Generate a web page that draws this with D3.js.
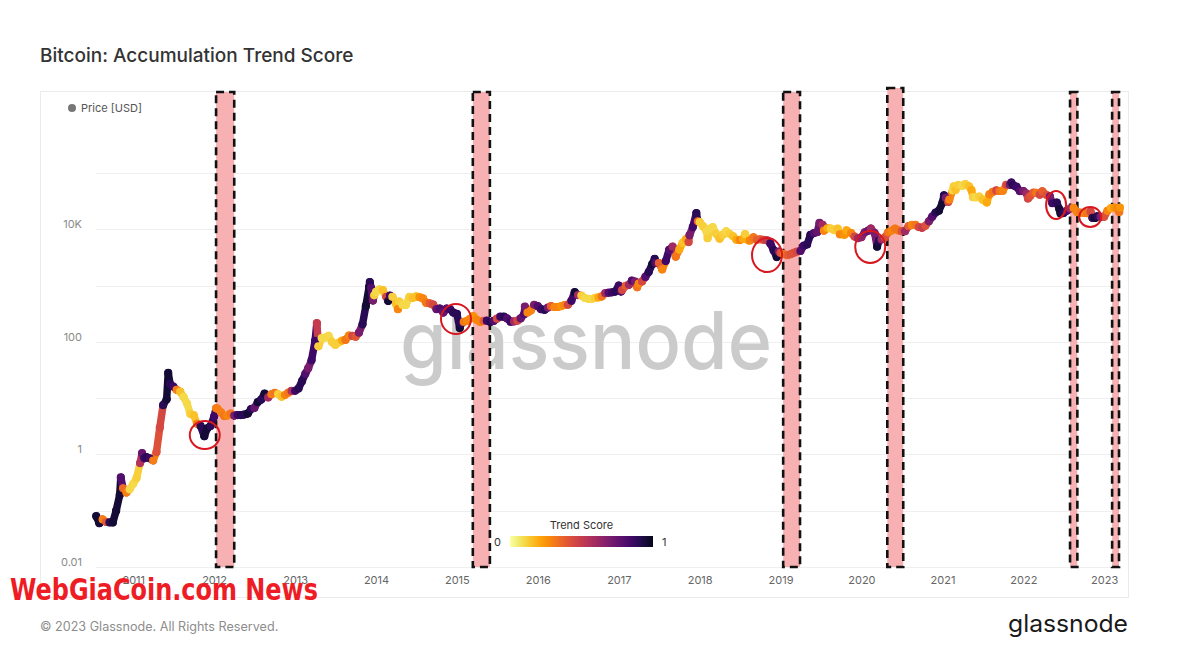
<!DOCTYPE html>
<html><head><meta charset="utf-8">
<script src="https://cdn.jsdelivr.net/npm/d3@7"></script>
<style>html,body{margin:0;padding:0;background:#fff;} svg{display:block;font-family:Inter,"Noto Sans",sans-serif;}</style>
</head><body><svg id="chart" width="1199" height="670"></svg>
<script>
// ---------------- DATA ----------------
const dates = [
 "2010-07-18","2010-08-01","2010-08-16","2010-09-01","2010-09-16","2010-10-01","2010-10-16","2010-11-01","2010-11-06","2010-11-16","2010-12-01","2010-12-16",
 "2011-01-01","2011-01-16","2011-02-01","2011-02-10","2011-02-20","2011-03-01","2011-03-16","2011-04-01","2011-04-16","2011-05-01","2011-05-16","2011-06-01","2011-06-08","2011-06-16","2011-07-01","2011-07-16","2011-08-01","2011-08-16","2011-09-01","2011-09-16","2011-10-01","2011-10-16","2011-11-01","2011-11-18","2011-12-01","2011-12-16",
 "2012-01-01","2012-01-10","2012-01-16","2012-02-01","2012-02-16","2012-03-01","2012-03-16","2012-04-01","2012-04-16","2012-05-01","2012-05-16","2012-06-01","2012-06-16","2012-07-01","2012-07-16","2012-08-01","2012-08-16","2012-09-01","2012-09-16","2012-10-01","2012-10-16","2012-11-01","2012-11-16","2012-12-01","2012-12-16",
 "2013-01-01","2013-01-16","2013-02-01","2013-02-16","2013-03-01","2013-03-16","2013-04-01","2013-04-09","2013-04-16","2013-05-01","2013-05-16","2013-06-01","2013-06-16","2013-07-01","2013-07-16","2013-08-01","2013-08-16","2013-09-01","2013-09-16","2013-10-01","2013-10-16","2013-11-01","2013-11-16","2013-12-01","2013-12-04","2013-12-10","2013-12-18","2013-12-24",
 "2014-01-01","2014-01-16","2014-02-01","2014-02-16","2014-02-25","2014-03-05","2014-03-16","2014-04-01","2014-04-10","2014-04-16","2014-05-01","2014-05-16","2014-06-01","2014-06-16","2014-07-01","2014-07-16","2014-08-01","2014-08-16","2014-09-01","2014-09-16","2014-10-01","2014-10-16","2014-11-01","2014-11-16","2014-12-01","2014-12-16",
 "2015-01-01","2015-01-14","2015-01-20","2015-02-01","2015-02-16","2015-03-01","2015-03-16","2015-04-01","2015-04-16","2015-05-01","2015-05-16","2015-06-01","2015-06-16","2015-07-01","2015-07-16","2015-08-01","2015-08-16","2015-09-01","2015-09-16","2015-10-01","2015-10-16","2015-11-01","2015-11-04","2015-11-16","2015-12-01","2015-12-16",
 "2016-01-01","2016-01-16","2016-02-01","2016-02-16","2016-03-01","2016-03-16","2016-04-01","2016-04-16","2016-05-01","2016-05-16","2016-06-01","2016-06-16","2016-07-01","2016-07-16","2016-08-01","2016-08-16","2016-09-01","2016-09-16","2016-10-01","2016-10-16","2016-11-01","2016-11-16","2016-12-01","2016-12-16",
 "2017-01-01","2017-01-11","2017-01-16","2017-02-01","2017-02-16","2017-03-01","2017-03-16","2017-03-25","2017-04-01","2017-04-16","2017-05-01","2017-05-16","2017-06-01","2017-06-12","2017-06-16","2017-07-01","2017-07-16","2017-08-01","2017-08-16","2017-09-01","2017-09-15","2017-10-01","2017-10-16","2017-11-01","2017-11-12","2017-11-16","2017-12-01","2017-12-17","2017-12-24",
 "2018-01-01","2018-01-16","2018-02-01","2018-02-06","2018-02-16","2018-03-01","2018-03-16","2018-04-01","2018-04-16","2018-05-01","2018-05-16","2018-06-01","2018-06-16","2018-07-01","2018-07-16","2018-07-25","2018-08-10","2018-08-16","2018-09-01","2018-09-16","2018-10-01","2018-10-16","2018-11-01","2018-11-16","2018-12-01","2018-12-15","2018-12-24",
 "2019-01-01","2019-01-16","2019-02-01","2019-02-16","2019-03-01","2019-03-16","2019-04-01","2019-04-16","2019-05-01","2019-05-16","2019-06-01","2019-06-16","2019-06-26","2019-07-10","2019-07-16","2019-08-01","2019-08-16","2019-09-01","2019-09-16","2019-09-26","2019-10-16","2019-10-26","2019-11-16","2019-12-01","2019-12-16",
 "2020-01-01","2020-01-16","2020-02-01","2020-02-13","2020-03-01","2020-03-12","2020-03-20","2020-04-01","2020-04-16","2020-05-01","2020-05-16","2020-06-01","2020-06-16","2020-07-01","2020-07-16","2020-08-01","2020-08-16","2020-09-01","2020-09-16","2020-10-01","2020-10-16","2020-11-01","2020-11-16","2020-12-01","2020-12-16",
 "2021-01-01","2021-01-08","2021-01-16","2021-01-27","2021-02-01","2021-02-16","2021-02-21","2021-03-01","2021-03-13","2021-04-01","2021-04-14","2021-05-01","2021-05-12","2021-05-19","2021-06-01","2021-06-16","2021-07-01","2021-07-20","2021-08-01","2021-08-16","2021-09-01","2021-09-16","2021-10-01","2021-10-16","2021-11-01","2021-11-08","2021-11-16","2021-12-01","2021-12-16",
 "2022-01-01","2022-01-16","2022-01-22","2022-02-01","2022-02-16","2022-03-01","2022-03-16","2022-03-28","2022-04-16","2022-05-01","2022-05-12","2022-06-01","2022-06-13","2022-06-18","2022-07-01","2022-07-16","2022-08-01","2022-08-16","2022-09-01","2022-09-16","2022-10-01","2022-10-16","2022-11-01","2022-11-09","2022-11-21","2022-12-01","2022-12-16",
 "2023-01-01","2023-01-16","2023-02-01","2023-02-16","2023-03-01","2023-03-10","2023-03-13"
];
const priceUSD = [
 0.08,0.06,0.07,0.063,0.062,0.062,0.10,0.19,0.39,0.25,0.21,0.24,
 0.30,0.38,0.7,1.05,0.85,0.9,0.85,0.78,1.1,3.0,7.5,9.5,28,18,16,14,13,10.5,8,5.2,5.0,3.5,3.2,2.1,2.9,3.2,
 4.7,6.6,6.5,5.6,4.8,4.9,5.3,4.9,5.0,5.0,5.1,5.3,6.4,6.7,8.5,9.4,12.0,10.3,11.7,12.4,11.8,10.6,11.3,12.5,13.4,
 13.5,14.8,20,27,34,47,104,214,83,116,119,128,99,88,97,105,108,129,127,123,145,204,430,946,1150,900,540,670,
 770,850,830,630,530,660,630,470,380,520,450,450,630,600,640,620,590,490,480,460,380,390,330,390,380,330,
 315,175,210,225,235,255,285,245,225,235,237,225,235,258,280,280,260,228,230,237,260,310,420,330,360,455,
 430,380,370,405,430,415,415,430,450,455,535,760,675,665,600,580,575,605,615,640,730,745,755,780,
 1000,780,830,990,1030,1220,1170,930,1080,1180,1420,1730,2400,2960,2500,2500,1930,2720,4300,4900,3250,4350,5700,6700,5900,7800,10900,19300,13800,
 13400,11300,9100,6900,10200,10900,8300,6800,8000,9200,8300,7500,6500,6400,6700,8200,6300,6300,7200,6500,6600,6500,6350,5600,4200,3200,4000,
 3800,3600,3450,3600,3800,4000,4100,5100,5350,7900,8550,8900,12900,12000,9400,10400,10300,9600,10200,8100,8000,9500,8500,7400,6900,
 7200,8800,9400,10300,8500,4900,6200,6600,7100,8800,9400,10200,9500,9200,9200,11300,11900,11900,10900,10600,11500,13800,16700,19700,21300,
 29400,40000,36000,30400,33500,49000,57500,49600,61000,58800,63500,57800,49500,37000,36700,38000,33500,29800,41500,46000,48800,47700,48100,61500,61300,67500,60100,57000,47600,
 47700,43100,35100,38700,44500,44400,41100,47100,40400,38500,28900,29800,22500,19000,19300,21200,23300,23900,20100,19700,19300,19200,20500,15900,15800,17000,16600,
 16600,21200,23700,24300,23600,20200,24100
];
const trendScore = [
 0.95,0.95,0.3,0.4,0.9,0.95,0.95,0.95,0.8,0.35,0.3,0.1,
 0.1,0.12,0.55,0.75,0.85,0.9,0.85,0.3,0.42,0.45,0.9,0.95,0.95,0.9,0.85,0.3,0.15,0.1,0.1,0.12,0.15,0.3,0.9,0.95,0.95,0.9,
 0.85,0.3,0.3,0.3,0.32,0.28,0.32,0.7,0.85,0.9,0.9,0.95,0.9,0.75,0.95,0.9,0.95,0.6,0.3,0.32,0.12,0.15,0.28,0.32,0.55,
 0.85,0.9,0.9,0.8,0.7,0.85,0.85,0.5,0.12,0.1,0.1,0.1,0.12,0.12,0.12,0.2,0.32,0.28,0.45,0.4,0.7,0.9,0.95,0.95,0.9,0.8,0.7,0.12,
 0.1,0.1,0.15,0.45,0.95,0.85,0.12,0.15,0.28,0.12,0.1,0.1,0.12,0.15,0.15,0.25,0.28,0.32,0.4,0.45,0.75,0.8,0.75,0.8,0.85,0.9,
 0.9,0.95,0.9,0.32,0.28,0.28,0.25,0.28,0.28,0.38,0.85,0.9,0.8,0.45,0.85,0.9,0.8,0.85,0.6,0.45,0.75,0.8,0.7,0.28,0.28,0.7,
 0.8,0.85,0.9,0.7,0.38,0.28,0.28,0.25,0.28,0.45,0.85,0.95,0.6,0.12,0.1,0.1,0.1,0.12,0.2,0.32,0.6,0.8,0.85,0.9,
 0.85,0.8,0.45,0.38,0.6,0.8,0.7,0.32,0.28,0.45,0.8,0.9,0.95,0.9,0.8,0.38,0.28,0.85,0.8,0.6,0.32,0.2,0.15,0.2,0.45,0.7,0.85,0.9,0.38,
 0.12,0.12,0.1,0.12,0.1,0.1,0.12,0.15,0.12,0.1,0.12,0.15,0.2,0.28,0.2,0.12,0.2,0.28,0.32,0.38,0.38,0.45,0.5,0.85,0.9,0.95,0.7,
 0.42,0.32,0.38,0.42,0.42,0.45,0.8,0.85,0.9,0.9,0.8,0.75,0.7,0.6,0.28,0.2,0.12,0.12,0.15,0.28,0.25,0.2,0.28,0.45,0.6,
 0.65,0.7,0.75,0.6,0.7,0.95,0.9,0.6,0.42,0.32,0.28,0.32,0.32,0.42,0.6,0.38,0.28,0.32,0.45,0.5,0.42,0.7,0.8,0.9,0.95,
 0.95,0.9,0.7,0.45,0.28,0.1,0.12,0.15,0.12,0.1,0.12,0.15,0.2,0.12,0.1,0.12,0.15,0.2,0.28,0.32,0.45,0.32,0.28,0.45,0.7,0.85,0.9,0.85,0.8,
 0.7,0.6,0.45,0.42,0.38,0.32,0.45,0.38,0.42,0.7,0.85,0.9,0.95,0.95,0.9,0.8,0.6,0.28,0.28,0.32,0.28,0.32,0.45,0.9,0.95,0.9,0.7,
 0.42,0.28,0.2,0.25,0.28,0.32,0.25
];
const yearTicks = [2011,2012,2013,2014,2015,2016,2017,2018,2019,2020,2021,2022,2023];
const yTickValues = [0.01,1,100,10000];
const yTickLabels = ["0.01","1","100","10K"];
const gridValues = [0.01,0.1,1,10,100,1000,10000,100000];
const boxStarts = ["2012-01-10","2015-03-14","2019-01-13","2020-04-27","2022-07-31","2023-02-06"];
const boxEnds   = ["2012-04-01","2015-05-30","2019-03-30","2020-07-08","2022-09-02","2023-03-09"];
const circleDates  = ["2011-11-20","2014-12-28","2018-11-01","2020-02-10","2022-05-29","2022-10-30"];
const circlePrices = [2.2,254,3470,4830,26900,16500];

// ---------------- STYLE / LAYOUT ----------------
const circleRadii = [[15,14],[15,15],[15,17],[15,16],[10,14],[11,10]];
const parse = d3.timeParse("%Y-%m-%d");
const svg = d3.select("#chart");
const W = 1199, H = 670;
const plot = {left: 96, right: 1121, bottom: 567, top: 92};

const x = d3.scaleTime().domain([parse("2010-07-17"), parse("2023-03-18")]).range([plot.left, plot.right]);
const y = d3.scaleLog().domain([0.01, 100000]).range([567, 567 - 56.3*7]);
const color = s => d3.interpolateInferno(1 - 0.95*s);

svg.append("rect").attr("width", W).attr("height", H).attr("fill", "#fff");

// title
svg.append("text").attr("x", 40).attr("y", 62).attr("font-size", 19).attr("font-weight", 500)
  .attr("fill", "#333").text("Bitcoin: Accumulation Trend Score");

// frame
svg.append("rect").attr("x", 40.5).attr("y", 91.5).attr("width", 1088).attr("height", 506)
  .attr("fill", "none").attr("stroke", "#ebebeb").attr("stroke-width", 1);

// gridlines
svg.append("g").selectAll("line").data(gridValues).join("line")
  .attr("x1", plot.left).attr("x2", plot.right)
  .attr("y1", d => Math.round(y(d)) + 0.5).attr("y2", d => Math.round(y(d)) + 0.5)
  .attr("stroke", "#efefef");

// y labels
const yAxis = d3.axisLeft(y).tickValues(yTickValues).tickFormat((d, i) => yTickLabels[i]).tickSize(0).tickPadding(0);
const gy = svg.append("g").attr("transform", "translate(82,0)").call(yAxis);
gy.select(".domain").remove();
gy.selectAll("text").attr("font-size", 11).attr("fill", "#8a8a8a").attr("font-family", "Inter,sans-serif").attr("dy", "-0.15em");

// x labels
const xAxis = d3.axisBottom(x).tickValues(yearTicks.map(yr => new Date(yr, 0, 1))).tickFormat(d3.timeFormat("%Y")).tickSize(0).tickPadding(0);
const gx = svg.append("g").attr("transform", "translate(0,576)").call(xAxis);
gx.select(".domain").remove();
gx.selectAll("text").attr("font-size", 11).attr("fill", "#666").attr("font-family", "Inter,sans-serif").attr("dy", "0.75em");

// watermark
svg.append("text").attr("x", 400).attr("y", 369).attr("font-size", 80).attr("font-weight", 500)
  .attr("fill", "#cbcbcb").attr("textLength", 372).attr("lengthAdjust", "spacingAndGlyphs").text("glassnode");

// highlight boxes
svg.append("g").selectAll("rect").data(boxStarts).join("rect")
  .attr("x", (d) => x(parse(d)))
  .attr("width", (d, i) => x(parse(boxEnds[i])) - x(parse(d)))
  .attr("y", (d, i) => i === 3 ? 88 : 92)
  .attr("height", (d, i) => i === 3 ? 567 - 88 : 567 - 92)
  .attr("fill", "#f8b1b3")
  .attr("stroke", "#111").attr("stroke-width", 2.6).attr("stroke-dasharray", "8,5");

// price series
const pts = dates.map((d, i) => ({t: parse(d), p: priceUSD[i], s: trendScore[i]}));
const gLine = svg.append("g");
gLine.selectAll("line").data(pts.slice(0, -1)).join("line")
  .attr("x1", d => x(d.t)).attr("y1", d => y(d.p))
  .attr("x2", (d, i) => x(pts[i+1].t)).attr("y2", (d, i) => y(pts[i+1].p))
  .attr("stroke", d => color(d.s)).attr("stroke-width", 7.5).attr("stroke-linecap", "round");
gLine.selectAll("circle").data(pts).join("circle")
  .attr("cx", d => x(d.t)).attr("cy", d => y(d.p)).attr("r", 4.1).attr("fill", d => color(d.s));

// red circles
svg.append("g").selectAll("ellipse").data(circleDates).join("ellipse")
  .attr("cx", d => x(parse(d))).attr("cy", (d, i) => y(circlePrices[i]))
  .attr("rx", (d, i) => circleRadii[i][0]).attr("ry", (d, i) => circleRadii[i][1])
  .attr("fill", "none").attr("stroke", "#d8181e").attr("stroke-width", 2);

// series legend
svg.append("circle").attr("cx", 72).attr("cy", 108).attr("r", 4).attr("fill", "#777");
svg.append("text").attr("x", 81).attr("y", 112).attr("font-size", 11).attr("fill", "#555").text("Price [USD]");

// colorbar legend
const defs = svg.append("defs");
const grad = defs.append("linearGradient").attr("id", "tsgrad");
d3.range(0, 1.0001, 0.05).forEach(t => grad.append("stop").attr("offset", t).attr("stop-color", color(t)));
const cb = d3.scaleLinear().domain([0, 1]).range([510, 653]);
svg.append("rect").attr("x", cb(0)).attr("y", 536).attr("width", cb(1) - cb(0)).attr("height", 11).attr("fill", "url(#tsgrad)");
svg.append("text").attr("x", (cb(0) + cb(1)) / 2).attr("y", 529).attr("text-anchor", "middle").attr("font-size", 11).attr("fill", "#333").text("Trend Score");
svg.append("text").attr("x", cb(0) - 9).attr("y", 546).attr("text-anchor", "end").attr("font-size", 11).attr("fill", "#333").text("0");
svg.append("text").attr("x", cb(1) + 9).attr("y", 546).attr("font-size", 11).attr("fill", "#333").text("1");

// footer
svg.append("text").attr("x", 40).attr("y", 631).attr("font-size", 12.6).attr("fill", "#8d8d8d").text("© 2023 Glassnode. All Rights Reserved.");
svg.append("text").attr("x", 1128).attr("y", 632).attr("text-anchor", "end").attr("font-size", 24).attr("fill", "#1a1a1a")
  .attr("textLength", 120).attr("lengthAdjust", "spacingAndGlyphs").text("glassnode");

// overlay watermark text
svg.append("text").attr("x", 10).attr("y", 600).attr("font-size", 31).attr("font-weight", "bold")
  .attr("font-family", "'Liberation Sans Narrow','DejaVu Sans Condensed',sans-serif")
  .attr("fill", "#ee1c24").attr("textLength", 308).attr("lengthAdjust", "spacingAndGlyphs").text("WebGiaCoin.com News");
</script></body></html>
